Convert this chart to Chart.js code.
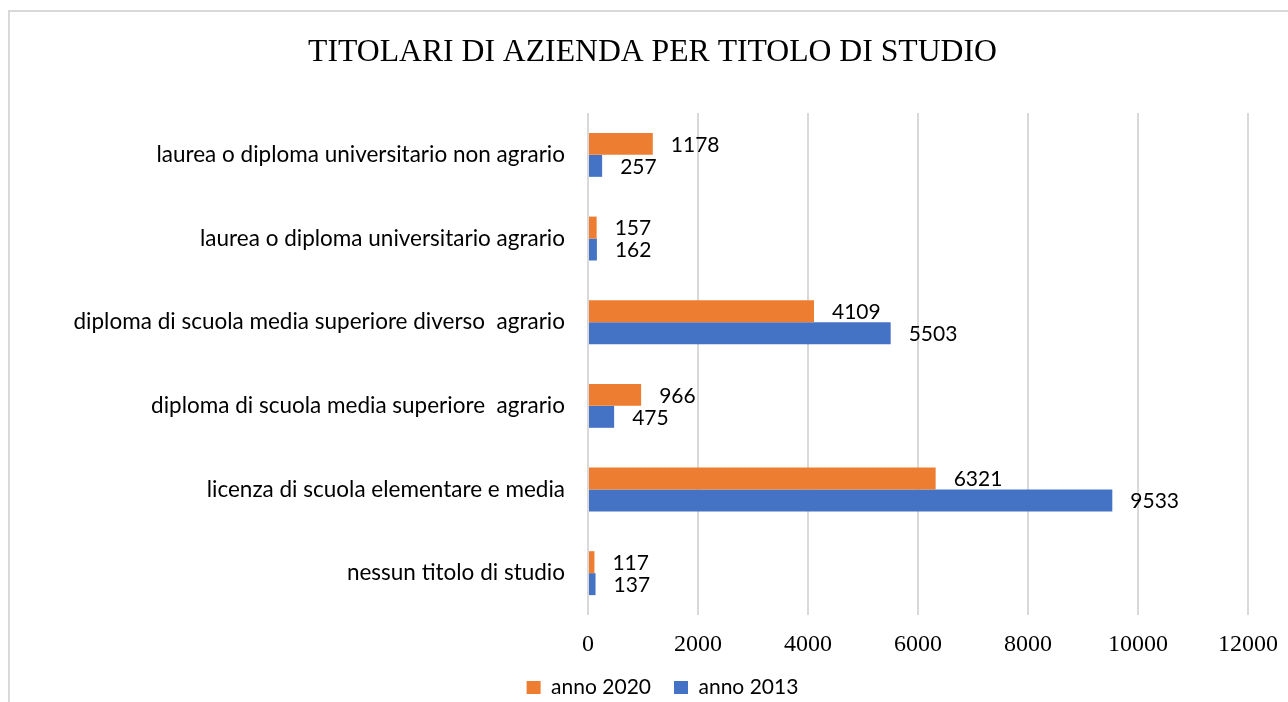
<!DOCTYPE html>
<html>
<head>
<meta charset="utf-8">
<script src="https://cdn.jsdelivr.net/npm/chart.js@4/dist/chart.umd.min.js"></script>
<style>
  html, body { margin: 0; padding: 0; background: #fff; }
  canvas { display: block; }
</style>
</head>
<body>
<canvas id="chart" width="1288" height="702"></canvas>
<script>
// DATA (top to bottom as in the picture)
const categories = [
  'laurea o diploma universitario non agrario',
  'laurea o diploma universitario agrario',
  'diploma di scuola media superiore diverso  agrario',
  'diploma di scuola media superiore  agrario',
  'licenza di scuola elementare e media',
  'nessun titolo di studio'
];
const anno2020 = [1178, 157, 4109, 966, 6321, 117];
const anno2013 = [257, 162, 5503, 475, 9533, 137];
const xTicks = [0, 2000, 4000, 6000, 8000, 10000, 12000];
const chartTitle = 'TITOLARI DI AZIENDA PER TITOLO DI STUDIO';

const ORANGE = '#ED7D31';
const BLUE = '#4472C4';
const GRID = '#d9d9d9';

// white page + light frame around the chart
const frame = {
  id: 'frame',
  beforeDraw(chart) {
    const ctx = chart.ctx;
    ctx.save();
    ctx.fillStyle = '#fff';
    ctx.fillRect(0, 0, chart.width, chart.height);
    ctx.strokeStyle = '#d9d9d9';
    ctx.lineWidth = 2;
    ctx.strokeRect(9, 11, chart.width + 50, chart.height + 50);
    ctx.restore();
  }
};

// legend sits a bit right of the page centre in the original
const legendShift = {
  id: 'legendShift',
  afterLayout(chart) {
    chart.legend.left += 10;
    chart.legend.right += 10;
  }
};

// value labels after the end of each bar
const valueLabels = {
  id: 'valueLabels',
  afterDatasetsDraw(chart) {
    const ctx = chart.ctx;
    ctx.save();
    ctx.font = '21px Lato';
    ctx.fillStyle = '#000';
    ctx.textAlign = 'left';
    ctx.textBaseline = 'middle';
    chart.data.datasets.forEach((ds, i) => {
      chart.getDatasetMeta(i).data.forEach((bar, j) => {
        ctx.fillText(String(ds.data[j]), bar.x + 18, bar.y + 1);
      });
    });
    ctx.restore();
  }
};

function draw() {
  new Chart(document.getElementById('chart'), {
    type: 'bar',
    data: {
      labels: categories,
      datasets: [
        { label: 'anno 2020', data: anno2020, backgroundColor: ORANGE },
        { label: 'anno 2013', data: anno2013, backgroundColor: BLUE }
      ]
    },
    options: {
      indexAxis: 'y',
      responsive: false,
      animation: false,
      devicePixelRatio: 1,
      categoryPercentage: 0.525,
      barPercentage: 1,
      layout: { padding: { left: 17, right: 0, top: 0, bottom: 0 } },
      plugins: {
        title: {
          display: true,
          text: chartTitle,
          color: '#000',
          font: { family: 'Liberation Serif', size: 31.7, weight: 'normal' },
          padding: { top: 34, bottom: 41 }
        },
        legend: {
          position: 'bottom',
          maxHeight: 48,
          labels: {
            color: '#000',
            font: { family: 'Lato', size: 21 },
            boxWidth: 14,
            boxHeight: 13,
            padding: 23
          }
        },
        tooltip: { enabled: false }
      },
      scales: {
        x: {
          min: 0,
          max: 12000,
          afterBuildTicks: s => { s.ticks = xTicks.map(v => ({ value: v })); },
          ticks: {
            color: '#000',
            font: { family: 'Liberation Serif', size: 24 },
            padding: 15,
            callback: v => String(v)
          },
          grid: { color: GRID, lineWidth: 2, drawTicks: false },
          border: { display: false },
          afterFit: s => { s.height = 39; s.paddingRight = 40; }
        },
        y: {
          ticks: {
            color: '#000',
            font: { family: 'Lato', size: 22.5 },
            padding: 23
          },
          grid: { display: false, drawTicks: false },
          border: { display: false },
          afterFit: s => { s.width = 571; }
        }
      }
    },
    plugins: [frame, legendShift, valueLabels]
  });
}

Promise.all([
  document.fonts.load('20px Lato'),
  document.fonts.load('24px "Liberation Serif"')
]).then(draw, draw);
</script>
</body>
</html>
